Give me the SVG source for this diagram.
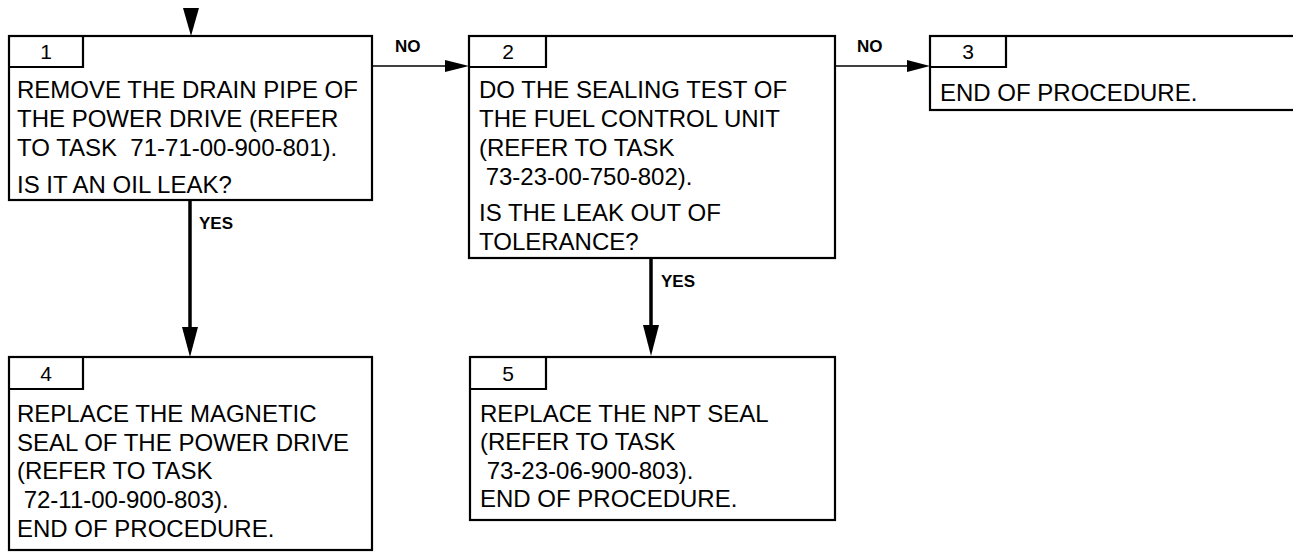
<svg xmlns="http://www.w3.org/2000/svg" width="1293" height="552" viewBox="0 0 1293 552">
<style>
.box{fill:#fff;stroke:#000;stroke-width:2.2}
.tab{fill:none;stroke:#000;stroke-width:2.2}
.t{font-family:"Liberation Sans",Arial,sans-serif;font-size:24px;fill:#000}
.n{font-family:"Liberation Sans",Arial,sans-serif;font-size:21px;fill:#000;text-anchor:middle}
.lbl{font-family:"Liberation Sans",Arial,sans-serif;font-size:17px;font-weight:bold;fill:#000}
.h{stroke:#000;stroke-width:1.6;fill:none}
.v{stroke:#000;stroke-width:3.5;fill:none}
.ah{fill:#000}
</style>
<rect width="1293" height="552" fill="#fff"/>
<g id="connectors">
<polygon class="ah" points="183,8 199,8 191,36"/>
<line class="h" x1="373" y1="66" x2="447" y2="66"/>
<polygon class="ah" points="445,60 469,66 445,72"/>
<text class="lbl" x="395" y="52">NO</text>
<line class="h" x1="835" y1="66" x2="909" y2="66"/>
<polygon class="ah" points="907,60 930,66 907,72"/>
<text class="lbl" x="857" y="52">NO</text>
<line class="v" x1="190" y1="200" x2="190" y2="330"/>
<polygon class="ah" points="182,327 198,327 190,357"/>
<text class="lbl" x="199" y="229">YES</text>
<line class="v" x1="651" y1="258" x2="651" y2="328"/>
<polygon class="ah" points="643,325 659,325 651,356"/>
<text class="lbl" x="661" y="287">YES</text>
</g>
<g id="node1">
<rect class="box" x="9" y="36" width="363" height="164"/>
<polyline class="tab" points="9,67 83,67 83,36"/>
<text class="n" x="46" y="59">1</text>
<text class="t" x="17" y="98">REMOVE THE DRAIN PIPE OF</text>
<text class="t" x="17" y="127">THE POWER DRIVE (REFER</text>
<text class="t" x="17" y="156" xml:space="preserve">TO TASK  71-71-00-900-801).</text>
<text class="t" x="17" y="193">IS IT AN OIL LEAK?</text>
</g>
<g id="node2">
<rect class="box" x="469" y="36" width="366" height="222"/>
<polyline class="tab" points="469,67 546,67 546,36"/>
<text class="n" x="508" y="59">2</text>
<text class="t" x="479" y="98">DO THE SEALING TEST OF</text>
<text class="t" x="479" y="127">THE FUEL CONTROL UNIT</text>
<text class="t" x="479" y="156">(REFER TO TASK</text>
<text class="t" x="479" y="185" xml:space="preserve"> 73-23-00-750-802).</text>
<text class="t" x="479" y="221">IS THE LEAK OUT OF</text>
<text class="t" x="479" y="250">TOLERANCE?</text>
</g>
<g id="node3">
<rect class="box" x="930" y="36" width="370" height="74"/>
<polyline class="tab" points="930,67 1006,67 1006,36"/>
<text class="n" x="968" y="59">3</text>
<text class="t" x="940" y="101">END OF PROCEDURE.</text>
</g>
<g id="node4">
<rect class="box" x="9" y="357" width="363" height="193"/>
<polyline class="tab" points="9,389 83,389 83,357"/>
<text class="n" x="46" y="381">4</text>
<text class="t" x="17" y="422">REPLACE THE MAGNETIC</text>
<text class="t" x="17" y="451">SEAL OF THE POWER DRIVE</text>
<text class="t" x="17" y="479">(REFER TO TASK</text>
<text class="t" x="17" y="508" xml:space="preserve"> 72-11-00-900-803).</text>
<text class="t" x="17" y="537">END OF PROCEDURE.</text>
</g>
<g id="node5">
<rect class="box" x="470" y="357" width="365" height="163"/>
<polyline class="tab" points="470,389 546,389 546,357"/>
<text class="n" x="508" y="381">5</text>
<text class="t" x="480" y="422">REPLACE THE NPT SEAL</text>
<text class="t" x="480" y="450">(REFER TO TASK</text>
<text class="t" x="480" y="479" xml:space="preserve"> 73-23-06-900-803).</text>
<text class="t" x="480" y="507">END OF PROCEDURE.</text>
</g>
</svg>
